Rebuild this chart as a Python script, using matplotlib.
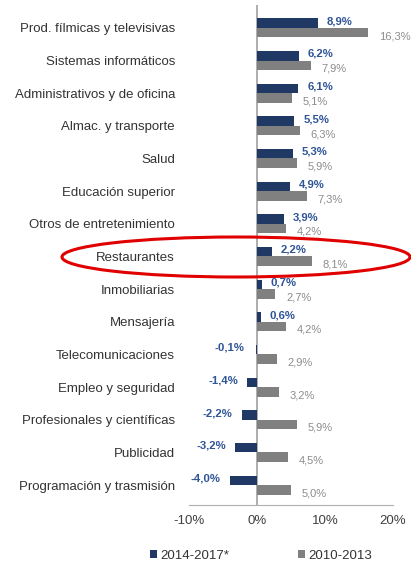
import matplotlib.pyplot as plt
from matplotlib.patches import Ellipse
import numpy as np

plt.rcParams['font.family'] = ['Liberation Sans', 'DejaVu Sans']

sectores = ['Prod. fílmicas y televisivas', 'Sistemas informáticos',
            'Administrativos y de oficina', 'Almac. y transporte', 'Salud',
            'Educación superior', 'Otros de entretenimiento', 'Restaurantes',
            'Inmobiliarias', 'Mensajería', 'Telecomunicaciones',
            'Empleo y seguridad', 'Profesionales y científicas', 'Publicidad',
            'Programación y trasmisión']
crec_2014_2017 = [8.9, 6.2, 6.1, 5.5, 5.3, 4.9, 3.9, 2.2, 0.7, 0.6, -0.1, -1.4, -2.2, -3.2, -4.0]
crec_2010_2013 = [16.3, 7.9, 5.1, 6.3, 5.9, 7.3, 4.2, 8.1, 2.7, 4.2, 2.9, 3.2, 5.9, 4.5, 5.0]
xticks = [-10, 0, 10, 20]

azul = '#1f3864'
azul_txt = '#2f5597'
gris = '#808080'
gris_txt = '#8c8c8c'

fig = plt.figure(figsize=(4.11, 5.66), dpi=100)
ax = fig.add_axes([189 / 411, 1 - 505 / 566, (393 - 189) / 411, 500 / 566])

y = np.arange(len(sectores))
h = 0.29
ax.barh(y - 0.145, crec_2014_2017, height=h, color=azul, label='2014-2017*')
ax.barh(y + 0.145, crec_2010_2013, height=h, color=gris, label='2010-2013')

fmt = lambda v: f'{v:.1f}%'.replace('.', ',')
for yi, v in zip(y, crec_2014_2017):
    if v >= 0:
        ax.text(v + 1.3, yi - 0.2, fmt(v), ha='left', va='center',
                fontsize=8.2, color=azul_txt, fontweight='bold')
    else:
        ax.text(min(v, -0.4) - 1.4, yi - 0.2, fmt(v), ha='right', va='center',
                fontsize=8.2, color=azul_txt, fontweight='bold')
for yi, v in zip(y, crec_2010_2013):
    ax.text(v + 1.6, yi + 0.25, fmt(v), ha='left', va='center',
            fontsize=8, color=gris_txt)

ax.set_xlim(-10, 20)
ax.set_ylim(14.61, -0.70)
ax.set_xticks(xticks)
ax.set_xticklabels([f'{t}%' for t in xticks], fontsize=9.5, color='#404040')
ax.set_yticks(y)
ax.set_yticklabels(sectores, fontsize=9.5, color='#333333')
ax.tick_params(length=0, pad=7)
ax.tick_params(axis='y', pad=10)

for s in ['top', 'right', 'left']:
    ax.spines[s].set_visible(False)
ax.spines['bottom'].set_color('#b0b0b0')
ax.axvline(0, color='#a0a0a0', lw=1.2, zorder=0)

fig.legend(loc='center', bbox_to_anchor=(261 / 411, 1 - 556 / 566), ncol=2,
           frameon=False, fontsize=9.5, handlelength=0.55, handleheight=0.55,
           columnspacing=5.2, handletextpad=0.25, labelcolor='#333333')

# marco rojo alrededor de Restaurantes
ell = Ellipse((236 / 411, 1 - 257 / 566), 348 / 411, 40 / 566,
              transform=fig.transFigure, fill=False, edgecolor='#e00000', lw=2.2)
fig.patches.append(ell)

plt.savefig('out.png', dpi=100)
